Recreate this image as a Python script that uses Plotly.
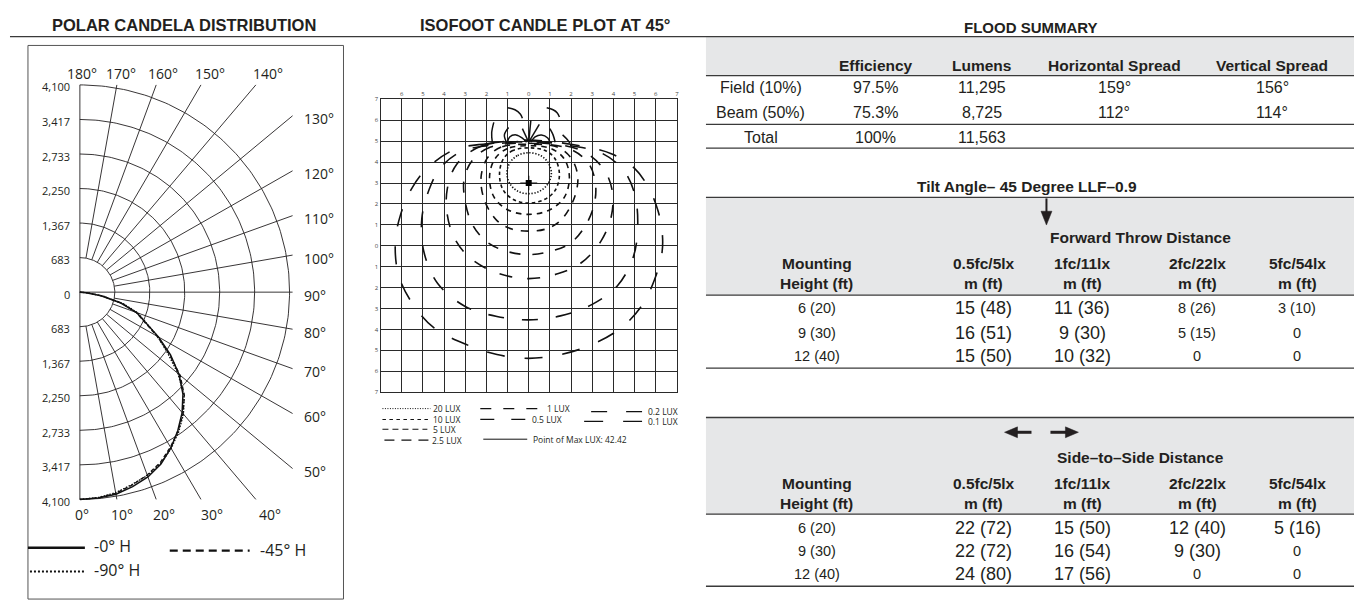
import numpy as np
import plotly.graph_objects as go

W, H = 1356, 607

# ---------------- polar candela distribution ----------------
vertical_angles = list(range(0, 95, 5))
candela_h0 = [4100, 4090, 4060, 3985, 3890, 3750, 3560, 3340, 3110, 2850,
              2590, 2330, 1900, 1430, 1180, 830, 420, 120, 0]
candela_h45 = [4100, 4085, 4040, 3950, 3850, 3720, 3540, 3350, 3140, 2890,
               2610, 2310, 1850, 1400, 1170, 850, 450, 150, 0]
candela_h90 = [4100, 4080, 4030, 3940, 3860, 3740, 3570, 3370, 3150, 2880,
               2570, 2280, 1870, 1450, 1210, 870, 470, 160, 0]
ring_candela = [0, 683, 1367, 2250, 2733, 3417, 4100]
spoke_angles = list(range(0, 181, 10))

# ---------------- isofootcandle contours (grid units) ----------------
lux_20 = [(0, 4.45), (-0.55, 4.3), (-0.9, 3.95), (-1.03, 3.45), (-0.88, 2.95), (-0.5, 2.6), (0, 2.49),
          (0.5, 2.6), (0.9, 2.95), (1.07, 3.45), (0.93, 3.95), (0.58, 4.3), (0, 4.45)]
lux_10 = [(0, 4.68), (-0.75, 4.55), (-1.2, 4.15), (-1.38, 3.4), (-1.2, 2.65), (-0.7, 2.2), (0, 2.04),
          (0.72, 2.2), (1.25, 2.65), (1.45, 3.4), (1.25, 4.15), (0.78, 4.55), (0, 4.68)]
lux_5 = [(0, 4.78), (-1.0, 4.65), (-1.6, 4.15), (-1.85, 3.3), (-1.65, 2.35), (-1.0, 1.72), (0, 1.5),
         (1.0, 1.72), (1.7, 2.35), (1.92, 3.3), (1.68, 4.15), (1.05, 4.65), (0, 4.78)]
lux_2_5 = [(0, 4.85), (-1.3, 4.72), (-1.95, 4.2), (-2.25, 3.3), (-2.1, 2.2), (-1.5, 1.2), (-0.8, 0.8),
           (0, 0.7), (0.8, 0.8), (1.5, 1.2), (2.12, 2.2), (2.32, 3.3), (2.0, 4.2), (1.35, 4.72), (0, 4.85)]
lux_1 = [(0, 4.9), (-1.8, 4.72), (-2.65, 4.1), (-3.05, 3.2), (-3.0, 2.1), (-2.65, 1.0), (-2.0, 0.2),
         (-1.1, -0.25), (0, -0.42), (1.1, -0.25), (2.0, 0.15), (2.7, 1.0), (3.1, 2.0), (3.15, 3.0),
         (2.85, 3.9), (2.0, 4.6), (0, 4.9)]
lux_0_5 = [(0, 4.95), (-2.2, 4.78), (-3.4, 3.9), (-3.85, 2.7), (-3.85, 1.5), (-3.5, 0.35), (-2.75, -0.6),
           (-1.5, -1.3), (0, -1.57), (1.4, -1.33), (2.5, -0.8), (3.4, 0.2), (3.9, 1.4), (3.95, 2.6),
           (3.55, 3.65), (2.5, 4.55), (0, 4.95)]
lux_0_2 = [(0, 5.0), (-1.9, 4.8), (-3.2, 4.5), (-4.15, 3.75), (-4.7, 2.7), (-5.05, 1.3), (-4.95, -0.3),
           (-4.3, -1.8), (-3.0, -2.9), (-1.5, -3.38), (0, -3.54), (1.5, -3.35), (3.0, -2.8), (4.2, -1.9),
           (4.95, -0.5), (5.15, 1.0), (5.0, 2.5), (4.45, 3.65), (3.4, 4.45), (2.0, 4.78), (0, 5.0)]
lux_0_1 = [(0, 5.05), (-2.0, 4.88), (-3.5, 4.6), (-4.8, 3.7), (-5.55, 2.7), (-6.05, 1.5), (-6.3, 0.2),
           (-6.15, -1.4), (-5.5, -2.75), (-4.5, -3.9), (-3.0, -4.7), (-1.5, -5.2), (0, -5.38),
           (1.5, -5.2), (3.0, -4.72), (4.4, -3.9), (5.35, -2.85), (5.95, -1.6), (6.3, -0.3), (6.3, 0.7),
           (6.1, 1.7), (5.65, 2.8), (5.0, 3.7), (3.9, 4.4), (2.0, 4.85), (0, 5.05)]
# back-light lobes behind the fixture
back_lobes = [
    [(-1.0, 6.6), (-0.65, 6.5), (-0.4, 6.3), (-0.3, 6.1)],
    [(0.85, 6.6), (1.15, 6.5), (1.35, 6.35), (1.45, 6.15)],
    [(-1.72, 4.95), (-1.75, 5.4), (-1.65, 5.9)],
    [(-1.05, 4.95), (-1.15, 5.3), (-0.95, 5.65)],
    [(1.0, 5.6), (1.15, 5.3), (1.25, 4.95)],
    [(1.6, 5.3), (1.8, 5.1), (1.95, 4.9)],
    [(-1.0, 4.95), (-0.9, 5.2), (-0.6, 5.3), (-0.3, 5.15), (-0.1, 4.95)],
    [(0.1, 4.95), (0.3, 5.2), (0.6, 5.3), (0.9, 5.15), (1.0, 4.95)],
    [(0, 4.95), (-0.3, 5.6)],
    [(0, 4.95), (0.1, 6.0)],
    [(0, 4.95), (0.5, 5.8)],
]
max_point = (0.0, 3.0)
max_lux = 42.42

# ---------------- flood summary table ----------------
summary_cols = ["Efficiency", "Lumens", "Horizontal Spread", "Vertical Spread"]
summary_rows = ["Field (10%)", "Beam (50%)", "Total"]
summary_efficiency = ["97.5%", "75.3%", "100%"]
summary_lumens = ["11,295", "8,725", "11,563"]
summary_hspread = ["159°", "112°", ""]
summary_vspread = ["156°", "114°", ""]

# ---------------- throw distance tables ----------------
throw_levels = ["0.5fc/5lx", "1fc/11lx", "2fc/22lx", "5fc/54lx"]
mount_heights = ["6 (20)", "9 (30)", "12 (40)"]
forward_05 = ["15 (48)", "16 (51)", "15 (50)"]
forward_1 = ["11 (36)", "9 (30)", "10 (32)"]
forward_2 = ["8 (26)", "5 (15)", "0"]
forward_5 = ["3 (10)", "0", "0"]
side_05 = ["22 (72)", "22 (72)", "24 (80)"]
side_1 = ["15 (50)", "16 (54)", "17 (56)"]
side_2 = ["12 (40)", "9 (30)", "0"]
side_5 = ["5 (16)", "0", "0"]

INK = "#231f20"
NARROW = "Liberation Sans Narrow, Arial Narrow, Liberation Sans, Arial, sans-serif"
SANS = "Liberation Sans, Arial, sans-serif"
HUMAN = "Open Sans, Noto Sans, sans-serif"


def px(x):
    return x / W


def py(y):
    return 1 - y / H


annotations = []
shapes = []


def text(x, y, s, size, family=SANS, bold=False, xanchor="center", color=INK, **kw):
    annotations.append(dict(
        x=px(x), y=py(y), xref="paper", yref="paper", text=f"<b>{s}</b>" if bold else s,
        showarrow=False, xanchor=xanchor, yanchor="middle",
        font=dict(size=size, family=family, color=color), **kw))


def hline(x0, x1, y, width=1.2, color="#3a3a3a", dash="solid"):
    shapes.append(dict(type="line", xref="paper", yref="paper", x0=px(x0), x1=px(x1),
                       y0=py(y), y1=py(y), line=dict(color=color, width=width, dash=dash)))


def band(x0, x1, y0, y1):
    shapes.append(dict(type="rect", xref="paper", yref="paper", x0=px(x0), x1=px(x1),
                       y0=py(y1), y1=py(y0), fillcolor="#e6e7e8", line=dict(width=0), layer="below"))


def tri(points):
    path = "M " + " L ".join(f"{px(a):.5f},{py(b):.5f}" for a, b in points) + " Z"
    shapes.append(dict(type="path", xref="paper", yref="paper", path=path,
                       fillcolor=INK, line=dict(color=INK, width=0.5)))


fig = go.Figure()

# ================= polar panel (cartesian axes, one unit per ring) =================
RING_PX = 35.0
CX, CY = 80.0, 292.0
CLIP_X = (293 - CX) / RING_PX
CLIP_Y = 6.0
n_rings = len(ring_candela) - 1

gx, gy = [], []
th = np.radians(np.linspace(0, 180, 181))
for i in range(1, n_rings + 1):
    gx += list(i * np.sin(th)) + [None]
    gy += list(-i * np.cos(th)) + [None]
gx += [0, 0, None]
gy += [-CLIP_Y, CLIP_Y, None]
for a in spoke_angles:
    if a in (0, 180):
        continue
    t = np.radians(a)
    s, c = np.sin(t), np.cos(t)
    r_end = min(CLIP_X / s, CLIP_Y / abs(c) if abs(c) > 1e-9 else 1e9)
    r0 = 0.0 if a == 90 else 1.0
    gx += [r0 * s, r_end * s, None]
    gy += [-r0 * c, -r_end * c, None]
fig.add_trace(go.Scatter(x=gx, y=gy, mode="lines", line=dict(color=INK, width=0.9),
                         hoverinfo="skip", xaxis="x", yaxis="y"))


def polar_xy(angles, cd):
    r = np.interp(cd, ring_candela, np.arange(len(ring_candela)))
    t = np.radians(angles)
    return r * np.sin(t), -r * np.cos(t)


for cd, dash, wdt in [(candela_h90, "1.5px,1.5px", 1.4), (candela_h45, "4px,2.5px", 1.3),
                      (candela_h0, "solid", 1.5)]:
    x, y = polar_xy(vertical_angles, cd)
    fig.add_trace(go.Scatter(x=x, y=y, mode="lines", line=dict(color="#111", width=wdt, dash=dash),
                             xaxis="x", yaxis="y"))

# ring labels
for i, v in enumerate(ring_candela):
    for sgn in ([1, -1] if i > 0 else [1]):
        annotations.append(dict(x=-0.23, y=sgn * i, xref="x", yref="y", text=f"{v:,}",
                                showarrow=False, xanchor="right", yanchor="middle", yshift=-2,
                                font=dict(size=11, family=HUMAN, color=INK)))
# angle labels
for a in spoke_angles:
    t = np.radians(a)
    s, c = np.sin(t), np.cos(t)
    t_side = CLIP_X / s if s > 1e-9 else 1e9
    t_tb = CLIP_Y / abs(c) if abs(c) > 1e-9 else 1e9
    if t_tb <= t_side:
        ylab = (292 - 70) / RING_PX if c < 0 else (292 - 517) / RING_PX
        xlab = ylab * s / (-c)
        annotations.append(dict(x=xlab, y=ylab, xref="x", yref="y", text=f"{a}°", showarrow=False,
                                xanchor="center", yanchor="middle", xshift=2,
                                font=dict(size=14, family=HUMAN, color=INK)))
    else:
        annotations.append(dict(x=(302 - CX) / RING_PX, y=-t_side * c, xref="x", yref="y",
                                text=f"{a}°", showarrow=False, xanchor="left", yanchor="middle",
                                yshift=-3, font=dict(size=14, family=HUMAN, color=INK)))

# ================= isofootcandle panel =================
contours = [
    (lux_0_1, "18px,20px", "0.1 LUX"),
    (lux_0_2, "16px,18px", "0.2 LUX"),
    (lux_0_5, "13px,15px", "0.5 LUX"),
    (lux_1, "11px,12px", "1 LUX"),
    (lux_2_5, "8px,8px", "2.5 LUX"),
    (lux_5, "5.5px,5px", "5 LUX"),
    (lux_10, "3.5px,3px", "10 LUX"),
    (lux_20, "1.3px,1.7px", "20 LUX"),
]
for pts, dash, name in contours:
    fig.add_trace(go.Scatter(x=[p[0] for p in pts], y=[p[1] for p in pts], mode="lines", name=name,
                             line=dict(color="#111", width=1.6, dash=dash, shape="spline", smoothing=1.0),
                             xaxis="x2", yaxis="y2"))
for pts in back_lobes:
    fig.add_trace(go.Scatter(x=[p[0] for p in pts], y=[p[1] for p in pts], mode="lines",
                             line=dict(color="#111", width=1.5, shape="spline"),
                             xaxis="x2", yaxis="y2"))
mx, my = max_point
fig.add_trace(go.Scatter(x=[mx - 0.4, mx + 0.4, None, mx, mx], y=[my, my, None, my - 0.35, my + 0.35],
                         mode="lines", line=dict(color="#111", width=1.2), xaxis="x2", yaxis="y2"))
fig.add_trace(go.Scatter(x=[mx], y=[my], mode="markers",
                         marker=dict(symbol="square", size=6, color="#000"),
                         name=f"Point of Max LUX: {max_lux}", xaxis="x2", yaxis="y2"))

iso_ticks_x = list(range(-6, 8))
iso_ticks_y = list(range(-7, 8))
ISO_L, ISO_R, ISO_T, ISO_B = 381.1, 677.9, 96.6, 393.4

# isofoot legend
legend_items = [
    (383, 431, 410, "1px,1.5px", 1.0, 432, "20 LUX"),
    (383, 431, 421, "3.5px,3.5px", 1.1, 432, "10 LUX"),
    (383, 428, 431, "6px,4px", 1.1, 432, "5 LUX"),
    (385, 431, 442, "10px,7px", 1.2, 431, "2.5 LUX"),
    (481, 542, 410, "11px,12px", 1.3, 546, "1 LUX"),
    (481, 527, 421, "14px,17px", 1.3, 531, "0.5 LUX"),
    (484, 528, 441, "solid", 1.0, 532, f"Point of Max LUX: {max_lux}"),
    (592, 643, 413, "16px,19px", 1.3, 647, "0.2 LUX"),
    (585, 643, 423, "19px,20px", 1.3, 647, "0.1 LUX"),
]
for x0, x1, y, dash, lw, tx, label in legend_items:
    hline(x0, x1, y, width=lw, color="#111", dash=dash)
    text(tx, y, label, 8.5, family=HUMAN, xanchor="left")

# ================= titles and frames =================
text(184, 21, "POLAR CANDELA DISTRIBUTION", 16.5, family=NARROW, bold=True)
text(546, 21, "ISOFOOT CANDLE PLOT AT 45°", 16.5, family=NARROW, bold=True)
hline(10, W, 33, width=1.3)
shapes.append(dict(type="rect", xref="paper", yref="paper", x0=px(28), x1=px(344), y0=py(603), y1=py(42),
                   line=dict(color="#555", width=1)))

# polar legend
hline(28, 85, 551, width=2.5, color="#111")
text(92, 549, "-0° H", 16, family=HUMAN, xanchor="left")
hline(170, 250, 554, width=2.2, color="#111", dash="8px,5px")
text(258, 553, "-45° H", 16, family=HUMAN, xanchor="left")
hline(30, 85, 575, width=2, color="#111", dash="2px,2px")
text(92, 574, "-90° H", 16, family=HUMAN, xanchor="left")

# ================= flood summary =================
TL, TR = 707, W
text(1033, 24, "FLOOD SUMMARY", 15, family=NARROW, bold=True)
band(TL, TR, 33, 72.5)
hline(TL, TR, 72.5, width=1.2)
for x, c in zip([877, 983, 1116, 1274], summary_cols):
    text(x, 62, c, 15.5, family=NARROW, bold=True)
for r, y in enumerate([85, 110, 135]):
    text(762, y, summary_rows[r], 16)
    for x, col in zip([877, 983, 1116, 1274],
                      [summary_efficiency, summary_lumens, summary_hspread, summary_vspread]):
        if col[r]:
            text(x, y, col[r], 16)
hline(TL, TR, 122, width=1.2)
hline(TL, TR, 146, width=1.4)

# ================= forward throw / side-to-side =================
COLS_X = [985, 1084, 1199, 1299]
BIG, SMALL = 18, 14.5


def throw_table(top, bottom, rows_y, columns, big_cols, caption):
    band(TL, TR, top, bottom)
    hline(TL, TR, top, width=1.3)
    hline(TL, TR, bottom, width=1.3)
    text(1142, top + 41, caption, 15.5, family=NARROW, bold=True)
    text(818, top + 67, "Mounting", 15.5, family=NARROW, bold=True)
    text(818, top + 87, "Height (ft)", 15.5, family=NARROW, bold=True)
    for x, lvl in zip(COLS_X, throw_levels):
        text(x, top + 67, lvl, 15.5, family=NARROW, bold=True)
        text(x, top + 87, "m (ft)", 15.5, family=NARROW, bold=True)
    for r, y in enumerate(rows_y):
        text(818, y, mount_heights[r], SMALL)
        for j, (x, col) in enumerate(zip(COLS_X, columns)):
            v = col[r]
            size = BIG if (v != "0" and big_cols[j]) else SMALL
            text(x, y, v, size)
    hline(TL, TR, rows_y[-1] + 12, width=1.4)


text(1029, 185, "Tilt Angle– 45 Degree LLF–0.9", 15.5, family=NARROW, bold=True)
throw_table(196, 295, [308, 333, 357], [forward_05, forward_1, forward_2, forward_5],
            [True, True, False, False], "Forward Throw Distance")
# forward arrow
shapes.append(dict(type="line", xref="paper", yref="paper", x0=px(1048), x1=px(1048), y0=py(197), y1=py(212),
                   line=dict(color=INK, width=2)))
tri([(1042.5, 210), (1053.5, 210), (1048, 224)])

throw_table(419, 517, [531, 554, 578], [side_05, side_1, side_2, side_5],
            [True, True, True, True], "Side–to–Side Distance")
# side arrows
for tip, tail in [(1006, 1033), (1080, 1052)]:
    d = 1 if tail > tip else -1
    shapes.append(dict(type="line", xref="paper", yref="paper", x0=px(tip + d * 10), x1=px(tail), y0=py(434),
                       y1=py(434), line=dict(color=INK, width=3)))
    tri([(tip, 434), (tip + d * 13, 428.5), (tip + d * 13, 439.5)])

fig.update_layout(
    width=W, height=H, margin=dict(l=0, r=0, t=0, b=0),
    paper_bgcolor="white", plot_bgcolor="rgba(0,0,0,0)", showlegend=False,
    annotations=annotations, shapes=shapes,
    xaxis=dict(domain=[0, 356 / W], range=[-CX / RING_PX, (356 - CX) / RING_PX], visible=False,
               fixedrange=True),
    yaxis=dict(domain=[0, 1], range=[(CY - H) / RING_PX, CY / RING_PX], visible=False, fixedrange=True),
    xaxis2=dict(domain=[px(ISO_L), px(ISO_R)], range=[-7, 7], anchor="y2", side="top",
                tickvals=iso_ticks_x, ticktext=[str(abs(v)) for v in iso_ticks_x],
                showgrid=True, gridcolor="#2a2a2a", gridwidth=1.2, zeroline=False,
                showline=True, mirror=True, linecolor="#2a2a2a", linewidth=1.2,
                ticks="", tickfont=dict(size=6, family=HUMAN, color="#444"), fixedrange=True),
    yaxis2=dict(domain=[py(ISO_B), py(ISO_T)], range=[-7, 7], anchor="x2",
                tickvals=iso_ticks_y, ticktext=[str(abs(v)) for v in iso_ticks_y],
                showgrid=True, gridcolor="#2a2a2a", gridwidth=1.2, zeroline=False,
                showline=True, mirror=True, linecolor="#2a2a2a", linewidth=1.2,
                ticks="", tickfont=dict(size=6, family=HUMAN, color="#444"), fixedrange=True),
)

fig.write_html("out.html")
